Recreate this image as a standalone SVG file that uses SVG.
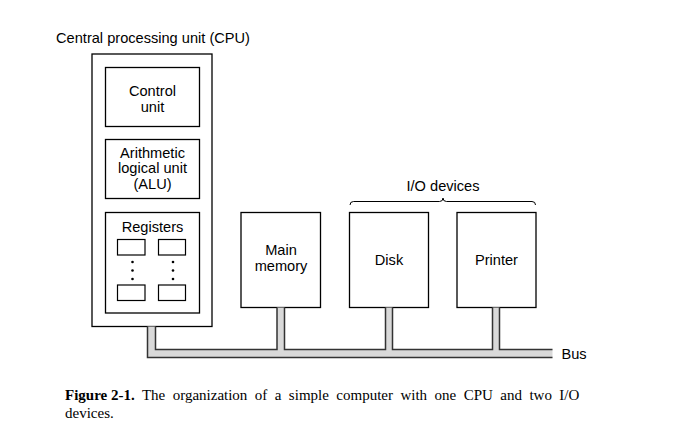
<svg xmlns="http://www.w3.org/2000/svg" width="692" height="429" viewBox="0 0 692 429">
<style>
.box{fill:#fff;stroke:#000;stroke-width:1.3}
.reg{fill:#fff;stroke:#000;stroke-width:1.2}
.t{font-family:"Liberation Sans",Arial,sans-serif;font-size:14.6px;fill:#000;text-anchor:middle}
.cap{font-family:"Liberation Serif","Times New Roman",serif;font-size:15px;fill:#000}
.busfill{fill:#d9d9d9;stroke:none}
.busline{fill:none;stroke:#333;stroke-width:1.5}
.dot{fill:#000}
</style>
<rect width="692" height="429" fill="#fff"/>
<g id="cpu">
<text class="t" x="153" y="43">Central processing unit (CPU)</text>
<rect class="box" x="92" y="54" width="120" height="272.5"/>
</g>
<g id="control-unit">
<rect class="box" x="105.5" y="67.5" width="94" height="59"/>
<text class="t" x="152.5" y="96">Control</text>
<text class="t" x="152.5" y="111.5">unit</text>
</g>
<g id="alu">
<rect class="box" x="105.5" y="139.5" width="94" height="59"/>
<text class="t" x="152.5" y="157.5">Arithmetic</text>
<text class="t" x="152.5" y="173">logical unit</text>
<text class="t" x="152.5" y="188.5">(ALU)</text>
</g>
<g id="registers">
<rect class="box" x="105.5" y="212.5" width="94" height="100.5"/>
<text class="t" x="152.5" y="232">Registers</text>
<rect class="reg" x="117.5" y="239.5" width="27.5" height="15.5"/>
<rect class="reg" x="158.5" y="239.5" width="27" height="15.5"/>
<rect class="reg" x="117.5" y="285" width="27.5" height="15.5"/>
<rect class="reg" x="158.5" y="285" width="27" height="15.5"/>
<circle class="dot" cx="132.5" cy="262" r="1.3"/>
<circle class="dot" cx="132.5" cy="270.5" r="1.3"/>
<circle class="dot" cx="132.5" cy="279" r="1.3"/>
<circle class="dot" cx="173" cy="262" r="1.3"/>
<circle class="dot" cx="173" cy="270.5" r="1.3"/>
<circle class="dot" cx="173" cy="279" r="1.3"/>
</g>
<g id="main-memory">
<rect class="box" x="241" y="212.5" width="79.5" height="95"/>
<text class="t" x="281" y="255">Main</text>
<text class="t" x="281" y="271">memory</text>
</g>
<g id="disk">
<rect class="box" x="349.5" y="212.5" width="79" height="95"/>
<text class="t" x="389" y="265">Disk</text>
</g>
<g id="printer">
<rect class="box" x="457" y="212.5" width="79" height="95"/>
<text class="t" x="496.5" y="265">Printer</text>
</g>
<g id="io-devices">
<path d="M350,205 Q350,201.5 353.5,201.5 L439.5,201.5 Q443,201.5 443,198 Q443,201.5 446.5,201.5 L532,201.5 Q535.5,201.5 535.5,205" fill="none" stroke="#000" stroke-width="1"/>
<text class="t" x="443" y="190.5">I/O devices</text>
</g>
<g id="connectors">
<path class="busfill" d="M147.5,326.5 V357.5 H552.5 V349.5 H499.5 V307.5 H492.5 V349.5 H392.5 V307.5 H385.5 V349.5 H284.5 V307.5 H277 V349.5 H155.5 V326.5 Z"/>
<path class="busline" d="M552.5,357.5 H147.5 V326.5 M155.5,326.5 V349.5 H277 V307.5 M284.5,307.5 V349.5 H385.5 V307.5 M392.5,307.5 V349.5 H492.5 V307.5 M499.5,307.5 V349.5 H552.5"/>
</g>
<g id="bus-label">
<text class="t" x="561.5" y="359" style="text-anchor:start">Bus</text>
</g>
<g id="caption">
<text class="cap" x="65" y="399.5" word-spacing="3.7"><tspan font-weight="bold" word-spacing="0">Figure 2-1.</tspan> The organization of a simple computer with one CPU and two I/O</text>
<text class="cap" x="65" y="417.5">devices.</text>
</g>
</svg>
